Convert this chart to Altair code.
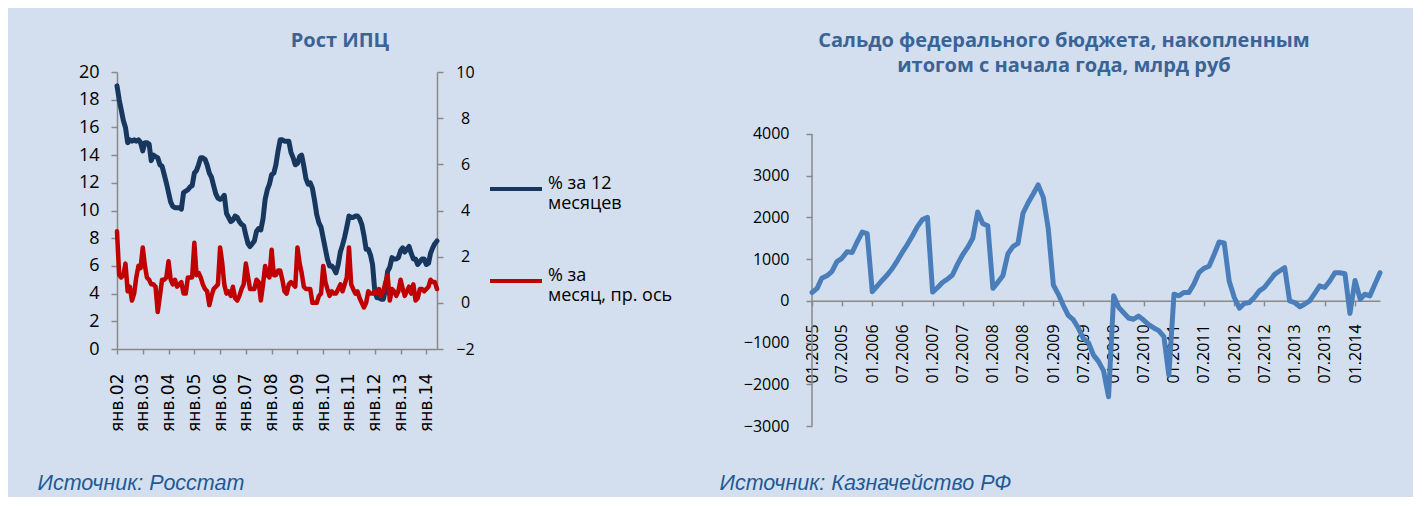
import altair as alt
import pandas as pd

# ---------------- data ----------------
cpi_start = "2002-01-01"
cpi_yoy = [
    19.0, 18.0, 17.3, 16.5, 16.0, 14.9, 15.1, 15.0, 15.1, 15.0, 15.1, 14.9,  # 2002
    14.3, 14.9, 14.9, 14.8, 13.6, 14.0, 13.9, 13.8, 13.3, 13.2, 12.6, 12.0,  # 2003
    11.3, 10.6, 10.3, 10.2, 10.2, 10.2, 10.1, 11.3, 11.4, 11.5, 11.7, 11.8,  # 2004
    12.7, 12.9, 13.3, 13.8, 13.8, 13.7, 13.3, 12.7, 12.4, 11.8, 11.2, 10.9,  # 2005
    10.8, 10.9, 11.1, 9.8, 9.5, 9.2, 9.3, 9.6, 9.5, 9.2, 9.0, 8.9,          # 2006
    8.2, 7.6, 7.4, 7.6, 7.8, 8.5, 8.7, 8.6, 9.4, 10.8, 11.5, 11.9,          # 2007
    12.6, 12.7, 13.3, 14.3, 15.1, 15.1, 15.0, 15.0, 15.0, 14.2, 13.8, 13.3,  # 2008
    13.4, 13.9, 14.0, 13.2, 12.3, 11.9, 12.0, 11.6, 10.7, 9.7, 9.1, 8.8,    # 2009
    8.0, 7.2, 6.5, 6.0, 6.0, 5.8, 5.5, 6.1, 7.0, 7.5, 8.1, 8.8,             # 2010
    9.6, 9.5, 9.5, 9.6, 9.6, 9.4, 9.0, 8.2, 7.2, 7.2, 6.8, 6.1,             # 2011
    4.2, 3.7, 3.7, 3.6, 3.6, 4.3, 5.6, 5.9, 6.6, 6.5, 6.5, 6.6,             # 2012
    7.1, 7.3, 7.0, 7.2, 7.4, 6.9, 6.5, 6.5, 6.1, 6.3, 6.5, 6.5,             # 2013
    6.1, 6.2, 6.9, 7.3, 7.6, 7.8,                                           # 2014
]
cpi_mom = [
    3.1, 1.2, 1.1, 1.2, 1.7, 0.5, 0.7, 0.1, 0.4, 1.1, 1.6, 1.5,   # 2002
    2.4, 1.6, 1.1, 1.0, 0.8, 0.8, 0.7, -0.4, 0.3, 1.0, 1.0, 1.1,  # 2003
    1.8, 1.0, 0.8, 1.0, 0.7, 0.8, 0.9, 0.4, 0.4, 1.1, 1.1, 1.1,   # 2004
    2.6, 1.2, 1.3, 1.1, 0.8, 0.6, 0.5, -0.1, 0.3, 0.6, 0.7, 0.8,  # 2005
    2.4, 1.7, 0.8, 0.4, 0.5, 0.3, 0.7, 0.2, 0.1, 0.3, 0.6, 0.8,   # 2006
    1.7, 1.1, 0.6, 0.6, 0.6, 1.0, 0.9, 0.1, 0.8, 1.6, 1.2, 1.1,   # 2007
    2.3, 1.2, 1.2, 1.4, 1.4, 1.0, 0.5, 0.4, 0.8, 0.9, 0.8, 0.7,   # 2008
    2.4, 1.7, 1.3, 0.7, 0.6, 0.6, 0.6, 0.0, 0.0, 0.0, 0.3, 0.4,   # 2009
    1.6, 0.9, 0.6, 0.3, 0.5, 0.4, 0.4, 0.6, 0.8, 0.5, 0.8, 1.1,   # 2010
    2.4, 0.8, 0.6, 0.4, 0.5, 0.2, 0.0, -0.2, 0.0, 0.5, 0.4, 0.4,  # 2011
    0.5, 0.4, 0.6, 0.3, 0.5, 0.9, 1.2, 0.1, 0.6, 0.5, 0.3, 0.5,   # 2012
    1.0, 0.6, 0.3, 0.5, 0.7, 0.4, 0.8, 0.1, 0.2, 0.6, 0.6, 0.5,   # 2013
    0.6, 0.7, 1.0, 0.9, 0.9, 0.6,                                 # 2014
]
budget_start = "2005-01-01"
budget = [
    200, 300, 540, 600, 700, 940, 1020, 1175, 1160, 1410, 1650, 1610,        # 2005
    220, 360, 490, 620, 770, 960, 1160, 1350, 1560, 1780, 1950, 2000,        # 2006
    210, 320, 440, 520, 620, 880, 1100, 1280, 1500, 2130, 1850, 1800,        # 2007
    300, 450, 600, 1130, 1300, 1380, 2100, 2350, 2560, 2780, 2480, 1730,     # 2008
    380, 150, -100, -350, -450, -650, -900, -1000, -1300, -1450, -1680, -2300,  # 2009
    120, -160, -280, -410, -440, -365, -460, -570, -650, -715, -860, -1780,  # 2010
    160, 120, 200, 200, 400, 675, 780, 830, 1110, 1410, 1390, 475,           # 2011
    80, -175, -65, -40, 80, 240, 320, 475, 635, 715, 795, 0,                 # 2012
    -40, -140, -80, 0, 175, 360, 320, 475, 675, 675, 650, -300,              # 2013
    490, 40, 160, 120, 400, 675,                                             # 2014
]
series_names = ["% за 12 месяцев", "% за месяц, пр. ось"]
series_labels = [["% за 12", "месяцев"], ["% за", "месяц, пр. ось"]]
left_title = "Рост ИПЦ"
right_title = ["Сальдо федерального бюджета, накопленным", "итогом с начала года, млрд руб"]
left_source = "Источник: Росстат"
right_source = "Источник: Казначейство РФ"
left_y_ticks = list(range(0, 21, 2))
right_y_ticks = list(range(-2, 11, 2))
budget_y_ticks = list(range(-3000, 4001, 1000))

# ---------------- styling ----------------
BG = "#D3DFEE"
AX = "#898989"
NAVY = "#17375E"
RED = "#C00000"
BLUE = "#4A7EBB"
TITLE_C = "#3A6396"
SRC_C = "#1F5996"
FONT = "Open Sans"

df_cpi = pd.DataFrame({
    "date": pd.date_range(cpi_start, periods=len(cpi_yoy), freq="MS"),
    "yoy": cpi_yoy,
    "mom": cpi_mom,
})
df_b = pd.DataFrame({
    "date": pd.date_range(budget_start, periods=len(budget), freq="MS"),
    "val": budget,
})

LW, LH = 320, 277
RW, RH = 568, 354
r_dom = [-3000, 5486]
x_axis_offset = -(0 - r_dom[0]) / (r_dom[1] - r_dom[0]) * RH

left_ticks = [alt.DateTime(year=y, month=1, date=1) for y in range(2002, 2015)]
right_ticks = []
for y in range(2005, 2015):
    right_ticks.append(alt.DateTime(year=y, month=1, date=1))
    if y < 2014:
        right_ticks.append(alt.DateTime(year=y, month=7, date=1))

x_left = alt.X(
    "date:T",
    scale=alt.Scale(domain=[alt.DateTime(year=2002, month=1, date=1), alt.DateTime(year=2014, month=6, date=1)]),
    axis=alt.Axis(
        values=left_ticks, format="янв.%y", formatType="time", labelAngle=270,
        labelAlign="right", labelBaseline="middle", labelFont="DejaVu Sans",
        labelFontSize=17, labelPadding=19, tickSize=5, labelColor="#000000",
        title=left_source, titleX=-80, titleY=140, titleAlign="left",
        titleBaseline="alphabetic", titleAngle=0, titleFont="Liberation Sans",
        titleFontSize=21.5, titleFontStyle="italic", titleFontWeight="normal",
        titleColor=SRC_C, labelOverlap=False,
    ),
)

col = alt.Color(
    "s:N",
    scale=alt.Scale(domain=series_names, range=[NAVY, RED]),
    legend=alt.Legend(
        orient="none", legendX=371, legendY=89, title=None,
        symbolType="stroke", symbolSize=2704, symbolStrokeWidth=4,
        labelFont=FONT, labelFontSize=18, labelColor="#000000",
        labelExpr=f"datum.label == '{series_names[0]}' ? {series_labels[0]} : {series_labels[1]}",
        rowPadding=40, labelOffset=4, labelLimit=300, labelBaseline="alphabetic",
    ),
)

yoy_line = alt.Chart(df_cpi).transform_calculate(s=f"'{series_names[0]}'").mark_line(
    strokeWidth=5, strokeJoin="round", strokeCap="round"
).encode(
    x=x_left,
    y=alt.Y("yoy:Q", scale=alt.Scale(domain=[0, 20], nice=False),
            axis=alt.Axis(values=left_y_ticks, title=None, labelFontSize=18,
                          labelPadding=12, tickSize=6)),
    color=col,
)
mom_line = alt.Chart(df_cpi).transform_calculate(s=f"'{series_names[1]}'").mark_line(
    strokeWidth=4.5, strokeJoin="round", strokeCap="round"
).encode(
    x=x_left,
    y=alt.Y("mom:Q", scale=alt.Scale(domain=[-2, 10], nice=False),
            axis=alt.Axis(values=right_y_ticks, title=None, orient="right",
                          labelFontSize=16, labelAlign="center", labelPadding=22,
                          tickSize=6)),
    color=col,
)

left = alt.layer(yoy_line, mom_line).resolve_scale(y="independent").properties(
    width=LW, height=LH,
    title=alt.TitleParams(left_title, font=FONT, fontSize=20, fontWeight="bold",
                          color=TITLE_C, anchor="middle", frame="group", dx=63,
                          baseline="alphabetic", offset=-4),
)

x_right = alt.X(
    "date:T",
    scale=alt.Scale(domain=[alt.DateTime(year=2005, month=1, date=1), alt.DateTime(year=2014, month=6, date=1)]),
    axis=alt.Axis(
        values=right_ticks, format="%m.%Y", formatType="time", labelAngle=270,
        labelAlign="right", labelBaseline="middle", labelFont=FONT,
        labelFontSize=16, labelPadding=18, tickSize=5, offset=x_axis_offset,
        labelColor="#000000", labelOverlap=False,
        title=right_source, titleX=-93, titleY=189, titleAlign="left",
        titleBaseline="alphabetic", titleAngle=0, titleFont="Liberation Sans",
        titleFontSize=21.5, titleFontStyle="italic", titleFontWeight="normal",
        titleColor=SRC_C,
    ),
)
budget_line = alt.Chart(df_b).mark_line(
    strokeWidth=5, color=BLUE, strokeJoin="round", strokeCap="round"
).encode(
    x=x_right,
    y=alt.Y("val:Q", scale=alt.Scale(domain=r_dom, nice=False, zero=False),
            axis=alt.Axis(values=budget_y_ticks, title=None, domain=False,
                          labelFontSize=16, labelPadding=17, tickSize=6, format="d")),
)
y_domain_rule = alt.Chart(pd.DataFrame({"k": [0]})).mark_rule(color=AX, strokeWidth=1.5).encode(
    x=alt.value(0),
    y=alt.datum(budget_y_ticks[0]),
    y2=alt.datum(budget_y_ticks[-1]),
)
right = alt.layer(y_domain_rule, budget_line).properties(
    width=RW, height=RH,
    title=alt.TitleParams(right_title, font=FONT, fontSize=20, fontWeight="bold",
                          color=TITLE_C, anchor="middle", frame="group", dx=-32,
                          baseline="alphabetic", offset=-20, lineHeight=25),
)

chart = alt.hconcat(left, right, spacing=375, bounds="flush").properties(
    padding={"left": 29, "top": 23, "right": 30, "bottom": 2},
    background=BG,
).configure_view(stroke=None).configure_axis(
    grid=False, domainColor=AX, tickColor=AX, domainWidth=1.5, tickWidth=1.5,
    labelFont=FONT, labelColor="#000000",
)

chart.save("out.html", embed_options={"renderer": "svg", "actions": False})
